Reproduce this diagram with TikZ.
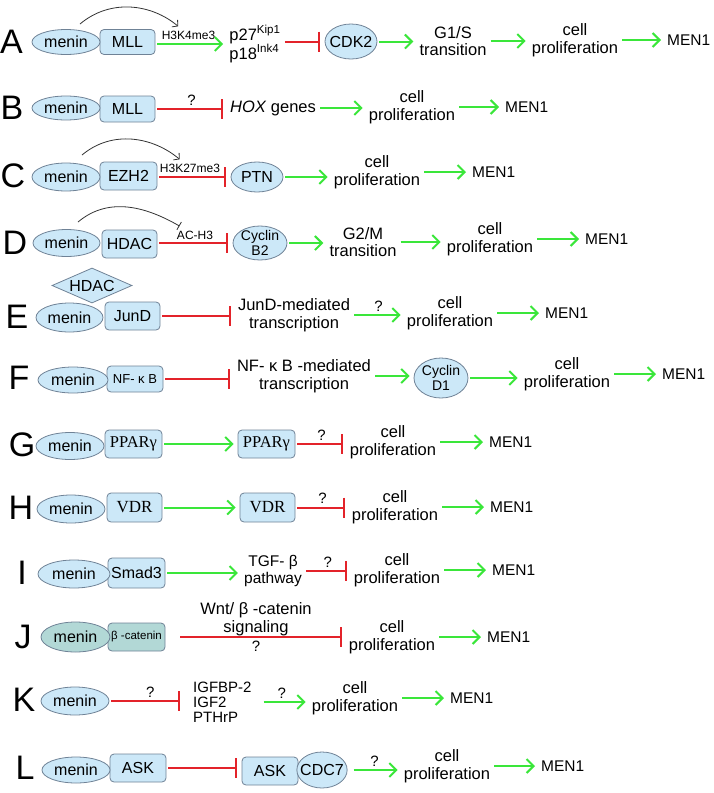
\documentclass[tikz,border=0pt]{standalone}
\usepackage{fontspec}
\setmainfont{Liberation Sans}
\newfontfamily\boxserif{Liberation Serif}
\usepackage{tikz}
\usetikzlibrary{arrows.meta}
\usetikzlibrary{shapes.geometric}
\definecolor{lineblue}{HTML}{6F8296}
\definecolor{fillblue}{HTML}{CCE8F8}
\definecolor{fillteal}{HTML}{B2D8D6}
\definecolor{actgreen}{HTML}{3AE63A}
\definecolor{inhred}{HTML}{E3232A}
\tikzstyle{prot} = [draw=lineblue, fill=fillblue, line width=0.8pt, ellipse, align=center, inner xsep=-4pt, inner ysep=-3pt, font=\fontsize{16}{17}\selectfont]
\tikzstyle{box} = [draw=lineblue, fill=fillblue, line width=0.8pt, rounded corners=4pt, inner sep=0pt, font=\fontsize{16}{17}\selectfont]
\tikzstyle{txt} = [align=center, inner sep=2pt, font=\fontsize{16.5}{17.5}\selectfont]
\tikzstyle{lbl} = [inner sep=1pt, font=\fontsize{12}{12}\selectfont]
\tikzstyle{qm} = [inner sep=3pt, font=\fontsize{15}{15}\selectfont]
\tikzstyle{letter} = [inner sep=0pt, font=\fontsize{34}{34}\selectfont]
\tikzstyle{act} = [draw=actgreen, line width=2pt, shorten <=2pt, shorten >=4pt, -{Straight Barb[length=7pt,width=14pt]}]
\tikzstyle{inh} = [draw=inhred, line width=2pt, shorten <=2pt, shorten >=5pt, -{Bar[width=20pt]}]
\tikzstyle{curl} = [draw=black!80, line width=0.8pt]
\tikzset{sz/.style 2 args={minimum width=#1, minimum height=#2}}

\begin{document}
\begin{tikzpicture}[x=1pt, y=-1pt]
	\useasboundingbox (0,0) rectangle (714,793) ;
	
	\foreach \l/\x/\y in {A/11.5/42, B/12/108, C/13/176, D/15/243, E/17/317, F/19/378, G/22/445, H/21/508, I/22/573, J/23/637, K/24/700, L/25/768}
	{
		\node[letter] (lt\l) at (\x,\y) {\l} ;
	}
	
	\node[box, sz={55pt}{25pt}] (mllA) at (127.5,42) {MLL} ;
	\node[lbl] (h3A) at (188.5,35) {H3K4me3} ;
	\node[txt, align=left] (pA) at (255,44) {p27\textsuperscript{Kip1}\\p18\textsuperscript{Ink4}} ;
	\node[prot, sz={52pt}{35pt}] (cdkA) at (351,41.5) {CDK2} ;
	\node[txt] (g1A) at (453,41) {G1/S\\transition} ;
	
	\node[box, sz={55pt}{26pt}] (mllB) at (127.5,109) {MLL} ;
	\node[txt] (hoxB) at (273,108) {\textit{HOX} genes} ;
	
	\node[box, sz={57pt}{28pt}] (ezC) at (128.5,176) {EZH2} ;
	\node[lbl] (h3C) at (190,168) {H3K27me3} ;
	\node[prot, sz={52pt}{30pt}] (ptnC) at (257,177) {PTN} ;
	
	\node[box, sz={55pt}{28pt}] (hdD) at (129.5,244) {HDAC} ;
	\node[lbl] (acD) at (195,235) {AC-H3} ;
	\node[prot, sz={54pt}{34pt}, font=\fontsize{14}{15}\selectfont] (cycB) at (260,243) {Cyclin\\B2} ;
	\node[txt] (g2D) at (363,242) {G2/M\\transition} ;
	
	\node[draw=lineblue, fill=fillblue, line width=0.8pt, diamond, aspect=2.3, inner sep=0pt, sz={80pt}{35pt}, font=\fontsize{16}{17}\selectfont] (hdE) at (92,285.5) {HDAC} ;
	\node[box, sz={55pt}{28pt}] (junE) at (132.5,316) {JunD} ;
	\node[txt] (jmE) at (294,315) {JunD-mediated\\transcription} ;
	
	\node[box, sz={56pt}{26pt}, font=\fontsize{13}{14}\selectfont] (nfF) at (135,379) {NF- κ B} ;
	\node[txt] (nmF) at (304,376) {NF- κ B -mediated\\transcription} ;
	\node[prot, sz={54pt}{40pt}, font=\fontsize{14}{15}\selectfont] (cycD) at (441,378) {Cyclin\\D1} ;
	
	\node[box, sz={57pt}{28pt}, font=\boxserif\fontsize{16.5}{17}\selectfont] (ppG) at (133.5,444) {PPARγ} ;
	\node[box, sz={57pt}{28pt}, font=\boxserif\fontsize{16.5}{17}\selectfont] (ppG2) at (266.5,444) {PPARγ} ;
	
	\node[box, sz={55pt}{29pt}, font=\boxserif\fontsize{17}{18}\selectfont] (vdH) at (134.5,507.5) {VDR} ;
	\node[box, sz={55pt}{29pt}, font=\boxserif\fontsize{17}{18}\selectfont] (vdH2) at (267.5,507.5) {VDR} ;
	
	\node[box, sz={57pt}{30pt}] (smI) at (136.5,573) {Smad3} ;
	\node[txt, font=\fontsize{15.5}{17}\selectfont] (tgI) at (273,571) {TGF- β\\pathway} ;
	
	\node[box, fill=fillteal, sz={57pt}{28pt}, font=\fontsize{11.5}{12}\selectfont] (btJ) at (136.5,637) {β -catenin} ;
	\node[prot, fill=fillteal, sz={69pt}{30pt}] (menJ) at (75.5,637) {menin} ;
	
	\node[txt, align=left, anchor=west, font=\fontsize{15}{15}\selectfont] (igK) at (191,702) {IGFBP-2\\IGF2\\PTHrP} ;
	
	\node[box, sz={56pt}{28pt}] (askL) at (138,768) {ASK} ;
	\node[box, sz={56pt}{28pt}] (askL2) at (270,771) {ASK} ;
	\node[prot, sz={50pt}{36pt}] (cdcL) at (322,770) {CDC7} ;
	
	\foreach \r/\x/\y/\w/\h in {A/66/42/68/25, B/66/108/68/24, C/66/177/68/28, D/66.5/243/67/27, E/69.5/317.5/67/29, F/73/380/70/26, G/70/446/68/27, H/71/509/68/28, I/74/574/72/28, K/75/701/68/28, L/76/770/68/26}
	{
		\node[prot, sz={\w pt}{\h pt}] (men\r) at (\x,\y) {menin} ;
	}
	
	\foreach \r/\x/\y/\m in {A/575/40/665, B/412/107/503, C/377/172/470, D/490/239/583, E/450/313/543, F/567/374/660, G/393/442/487, H/395/507/488, I/397/570/490, J/392/637/485, K/355/698/448, L/447/766/539}
	{
		\node[txt] (cp\r) at (\x,\y) {cell\\proliferation} ;
		\node[txt, anchor=west, font=\fontsize{15.5}{17}\selectfont] (mn\r) at (\m,\y) {MEN1} ;
		\draw[act] (cp\r) -- (mn\r) ;
	}
	
	\coordinate (tA) at (80,24) ;
	\coordinate (tC) at (82,155) ;
	\coordinate (tD) at (78,222) ;
	\draw[curl, shorten >=5pt, -{Straight Barb[length=4pt,width=9pt]}] (tA) to[out=40, in=140] (h3A) ;
	\draw[curl, shorten >=5pt, -{Straight Barb[length=4pt,width=9pt]}] (tC) to[out=40, in=140] (h3C) ;
	\draw[curl, shorten >=7pt, -{Bar[width=9pt]}] (tD) to[out=40, in=150] (acD) ;
	
	\draw[act] (mllA.east |- pA) -- (pA) ;
	\draw[inh] (pA.east |- cdkA) -- (cdkA) ;
	\draw[act] (cdkA) -- (cdkA -| g1A.west) ;
	\draw[act] (g1A) -- (g1A -| cpA.west) ;
	
	\draw[inh] (mllB) -- (mllB -| hoxB.west) node[qm, midway, above] (qB) {?} ;
	\draw[act] (hoxB) -- (hoxB -| cpB.west) ;
	
	\draw[inh] (ezC.east |- ptnC) -- (ptnC) ;
	\draw[act] (ptnC) -- (ptnC -| cpC.west) ;
	
	\draw[inh] (hdD.east |- cycB) -- (cycB) ;
	\draw[act] (cycB) -- (cycB -| g2D.west) ;
	\draw[act] (g2D) -- (g2D -| cpD.west) ;
	
	\draw[inh] (junE) -- (junE -| jmE.west) ;
	\draw[act] (jmE) -- (jmE -| cpE.west) node[qm, midway, above] (qE) {?} ;
	
	\draw[inh] (nfF) -- (nfF -| nmF.west) ;
	\draw[act] (nmF) -- (nmF -| cycD.west) ;
	\draw[act] (cycD) -- (cycD -| cpF.west) ;
	
	\draw[act] (ppG) -- (ppG2) ;
	\draw[inh] (ppG2) -- (ppG2 -| cpG.west) node[qm, midway, above] (qG) {?} ;
	
	\draw[act] (vdH) -- (vdH2) ;
	\draw[inh] (vdH2) -- (vdH2 -| cpH.west) node[qm, midway, above] (qH) {?} ;
	
	\draw[act] (smI) -- (smI -| tgI.west) ;
	\draw[inh] (tgI) -- (tgI -| cpI.west) node[qm, midway, above] (qI) {?} ;
	
	\draw[inh, shorten <=15pt] (btJ) -- (btJ -| cpJ.west) node[txt, midway, above, inner sep=0.5pt] (wnJ) {Wnt/ β -catenin\\signaling} node[qm, midway, below] (qJ) {?} ;
	
	\draw[inh, shorten >=11pt] (menK) -- (menK -| igK.west) node[qm, midway, above] (qK1) {?} ;
	\draw[act, shorten <=10pt] (igK) -- (igK -| cpK.west) node[qm, midway, above] (qK2) {?} ;
	
	\draw[inh] (askL) -- (askL -| askL2.west) ;
	\draw[act, shorten <=6pt] (cdcL) -- (cdcL -| cpL.west) node[qm, midway, above] (qL) {?} ;
\end{tikzpicture}
\end{document}
